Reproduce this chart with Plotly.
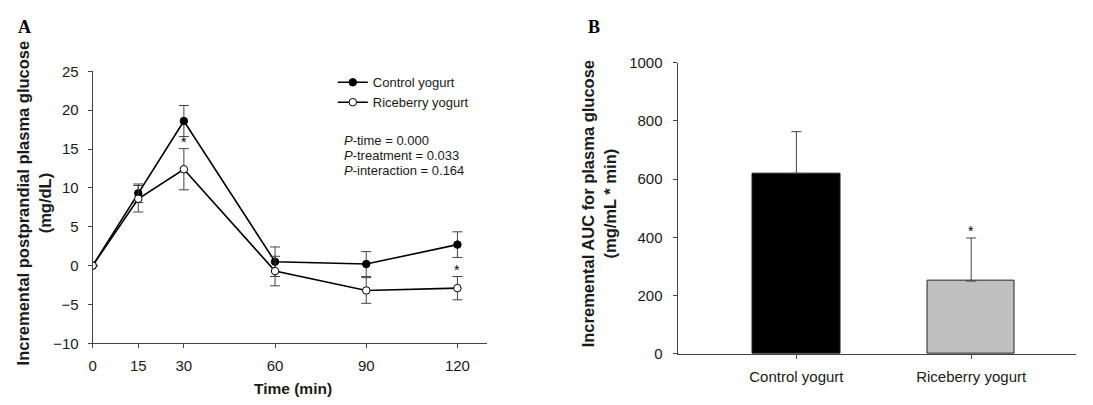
import plotly.graph_objects as go

# ---- Data ----
time_min = [0, 15, 30, 60, 90, 120]
control_mean = [0, 9.3, 18.6, 0.5, 0.2, 2.7]
control_err = [0, 1.2, 2.0, 1.9, 1.6, 1.65]
rice_mean = [0, 8.6, 12.4, -0.7, -3.2, -2.9]
rice_err = [0, 1.7, 2.65, 1.9, 1.65, 1.5]
sig_times = [30, 120]

bar_cats = ["Control yogurt", "Riceberry yogurt"]
auc_mean = [620, 250]
auc_err = [143, 148]
auc_sig = [False, True]

p_lines = ["<i>P</i>-time = 0.000", "<i>P</i>-treatment = 0.033", "<i>P</i>-interaction = 0.164"]

W, H = 1093, 405
AX = "#444444"
TXT = "#1a1a1a"
FONT = "Liberation Sans, Arial, sans-serif"

fig = go.Figure()

fig.add_trace(go.Scatter(
    x=time_min, y=control_mean, name="Control yogurt", mode="lines+markers",
    line=dict(color="black", width=1.6),
    marker=dict(symbol="circle", size=7.5, color="black", line=dict(color="black", width=1)),
    error_y=dict(type="data", array=control_err, color=AX, thickness=1, width=5),
    xaxis="x", yaxis="y"))
fig.add_trace(go.Scatter(
    x=time_min, y=rice_mean, name="Riceberry yogurt", mode="lines+markers",
    line=dict(color="black", width=1.6),
    marker=dict(symbol="circle", size=7.5, color="white", line=dict(color="black", width=1)),
    error_y=dict(type="data", array=rice_err, color=AX, thickness=1, width=5),
    xaxis="x", yaxis="y"))

fig.add_trace(go.Bar(
    x=[0, 1], y=auc_mean, width=0.5, showlegend=False,
    marker=dict(color=["black", "#c0c0c0"], line=dict(color="#222222", width=1)),
    error_y=dict(type="data", array=auc_err, symmetric=False, arrayminus=[0, 0],
                 color=AX, thickness=1, width=5),
    xaxis="x2", yaxis="y2"))

annotations = []
for t in sig_times:
    i = time_min.index(t)
    annotations.append(dict(x=t, y=rice_mean[i] + rice_err[i], xref="x", yref="y",
                            text="*", showarrow=False, yanchor="bottom", yshift=-3,
                            font=dict(size=14, color="black", family=FONT)))
for i, s in enumerate(auc_sig):
    if s:
        annotations.append(dict(x=i, y=auc_mean[i] + auc_err[i], xref="x2", yref="y2",
                                text="*", showarrow=False, yanchor="bottom", yshift=-3,
                                font=dict(size=14, color="black", family=FONT)))

def px(x, y):
    return x / W, 1 - y / H

# panel labels
for lab, (x, y) in [("A", (21, 19)), ("B", (592, 19))]:
    xx, yy = px(x, y)
    annotations.append(dict(x=xx, y=yy, xref="paper", yref="paper", text=f"<b>{lab}</b>",
                            showarrow=False, xanchor="center", yanchor="middle",
                            font=dict(size=18, family="Liberation Serif, Times New Roman, serif", color="black")))

# axis titles
xx, yy = px(30, 202)
annotations.append(dict(x=xx, y=yy, xref="paper", yref="paper", textangle=-90,
                        text="<b>Incremental postprandial plasma glucose<br>(mg/dL)</b>",
                        showarrow=False, xanchor="center", yanchor="middle",
                        font=dict(size=16.5, family=FONT, color=TXT)))
xx, yy = px(290, 396)
annotations.append(dict(x=xx, y=yy, xref="paper", yref="paper",
                        text="<b>Time (min)</b>", showarrow=False, xanchor="center", yanchor="middle",
                        font=dict(size=15.5, family=FONT, color=TXT)))
xx, yy = px(597, 203)
annotations.append(dict(x=xx, y=yy, xref="paper", yref="paper", textangle=-90,
                        text="<b>Incremental AUC for plasma glucose<br>(mg/mL * min)</b>",
                        showarrow=False, xanchor="center", yanchor="middle",
                        font=dict(size=16.5, family=FONT, color=TXT)))

# P-value text
for k, line in enumerate(p_lines):
    xx, yy = px(339, 137 + 15.8 * k)
    annotations.append(dict(x=xx, y=yy, xref="paper", yref="paper", align="left",
                            text=line, showarrow=False, xanchor="left", yanchor="middle",
                            font=dict(size=13, family=FONT, color=TXT)))

axis_common = dict(showline=True, linecolor=AX, linewidth=1, ticks="outside", ticklen=4,
                   tickcolor=AX, tickwidth=1, showgrid=False, zeroline=False,
                   tickfont=dict(size=15, family=FONT, color=TXT))

fig.update_layout(
    width=W, height=H, margin=dict(l=0, r=0, t=0, b=0),
    plot_bgcolor="white", paper_bgcolor="white",
    font=dict(family=FONT, color="black"),
    xaxis=dict(domain=[89 / W, 485 / W], range=[0, 129.8], tickvals=time_min,
               anchor="y", ticklabelstandoff=5, **axis_common),
    yaxis=dict(domain=[1 - 349 / H, 1 - 65 / H], range=[-10, 25], dtick=5,
               anchor="x", ticklabelstandoff=6, **axis_common),
    xaxis2=dict(domain=[676 / W, 1076 / W], range=[-0.68, 1.6], tickvals=[0, 1],
                ticktext=bar_cats, anchor="y2", ticklabelstandoff=5, **axis_common),
    yaxis2=dict(domain=[1 - 360 / H, 1 - 56 / H], range=[0, 1000], dtick=200,
                anchor="x2", ticklabelstandoff=7, **axis_common),
    legend=dict(x=330 / W, y=1 - 87 / H, xanchor="left", yanchor="middle",
                font=dict(size=13, family=FONT, color=TXT),
                bgcolor="rgba(0,0,0,0)", tracegroupgap=0, itemwidth=30),
    annotations=annotations,
    bargap=0,
)

fig.write_html("out.html")
